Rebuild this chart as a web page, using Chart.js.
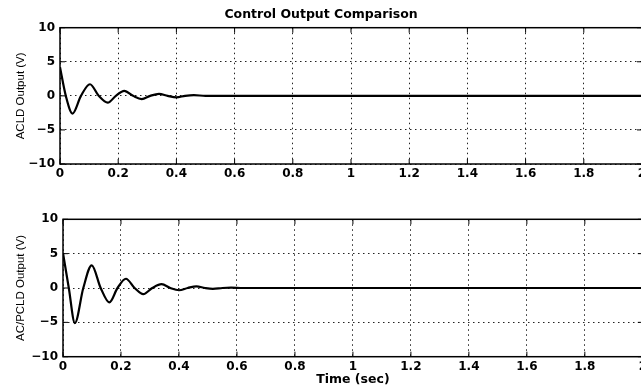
<!DOCTYPE html>
<html>
<head>
<meta charset="utf-8">
<script src="https://cdn.jsdelivr.net/npm/chart.js@4/dist/chart.umd.min.js"></script>
<style>
  html, body { margin: 0; padding: 0; background: #fff; overflow: hidden; width: 641px; height: 388px; }
  .box { position: absolute; left: 0; }
</style>
</head>
<body>
<div class="box" style="top:0"><canvas id="acldChart" width="650" height="185"></canvas></div>
<div class="box" style="top:190px"><canvas id="pcldChart" width="650" height="198"></canvas></div>
<script>
// ═══ DATA ═══
const chartTitle = 'Control Output Comparison';
const xAxisTitle = 'Time (sec)';
const acldLabel = 'ACLD Output (V)';
const pcldLabel = 'AC/PCLD Output (V)';

// time (sec) / volts – peaks and zero crossings
const acldTime = [0, 0.02, 0.043, 0.072, 0.103, 0.133, 0.164, 0.192, 0.221, 0.251, 0.281, 0.31, 0.34, 0.37, 0.40, 0.43, 0.46, 0.50, 0.55, 2.0];
const acldOut  = [4.2, 0, -2.6, 0, 1.7, 0, -1.0, 0, 0.74, 0, -0.48, 0, 0.3, 0, -0.22, 0, 0.1, 0, 0, 0];

const pcldTime = [0, 0.02, 0.041, 0.07, 0.099, 0.13, 0.16, 0.188, 0.217, 0.247, 0.277, 0.308, 0.34, 0.37, 0.40, 0.43, 0.46, 0.49, 0.517, 0.55, 0.58, 0.62, 2.0];
const pcldOut  = [5.1, 0, -5.1, 0, 3.3, 0, -2.1, 0, 1.35, 0, -0.9, 0, 0.55, 0, -0.33, 0, 0.25, 0, -0.12, 0, 0.05, 0, 0];

const timeRange = [0, 2];
const timeStep = 0.2;
const voltRange = [-10, 10];
const voltStep = 5;

// ═══ box + inward ticks, matlab style ═══
const boxPlugin = {
  id: 'box',
  beforeDatasetsDraw(chart) {
    const { ctx, chartArea: a, scales } = chart;
    ctx.save();
    ctx.strokeStyle = '#000';
    ctx.lineWidth = 1.5;
    ctx.strokeRect(a.left, a.top, a.right - a.left, a.bottom - a.top);
    ctx.lineWidth = 1;
    ctx.beginPath();
    scales.x.ticks.forEach(t => {
      const px = scales.x.getPixelForValue(t.value);
      ctx.moveTo(px, a.bottom); ctx.lineTo(px, a.bottom - 5);
      ctx.moveTo(px, a.top); ctx.lineTo(px, a.top + 5);
    });
    scales.y.ticks.forEach(t => {
      const py = scales.y.getPixelForValue(t.value);
      ctx.moveTo(a.left, py); ctx.lineTo(a.left + 5, py);
      ctx.moveTo(a.right, py); ctx.lineTo(a.right - 5, py);
    });
    ctx.stroke();
    ctx.restore();
  }
};

const tickFont = { family: 'DejaVu Sans', size: 12, weight: 'bold' };
const headFont = { family: 'DejaVu Sans', size: 12.5, weight: 'bold' };

function makeChart(id, times, vals, o) {
  return new Chart(document.getElementById(id), {
    type: 'line',
    data: {
      datasets: [{
        data: times.map((t, i) => ({ x: t, y: vals[i] })),
        borderColor: '#000', borderWidth: 2.2, pointRadius: 0,
        cubicInterpolationMode: 'monotone', fill: false
      }]
    },
    options: {
      responsive: false,
      animation: false,
      layout: { padding: { left: 0, right: o.padRight, top: o.padTop, bottom: 0 } },
      plugins: {
        legend: { display: false },
        tooltip: { enabled: false },
        title: {
          display: !!o.title, text: o.title, color: '#000',
          font: headFont, padding: { top: 7, bottom: 5.7 }
        }
      },
      scales: {
        x: {
          type: 'linear', min: timeRange[0], max: timeRange[1],
          afterFit: s => { s.height = o.xHeight; },
          grid: { color: '#222', lineWidth: 1, drawTicks: false },
          border: { display: false, dash: [1.5, 3.5] },
          ticks: { stepSize: timeStep, padding: 3, color: '#000', font: tickFont, maxRotation: 0,
                   callback: v => String(Math.round(v * 10) / 10) },
          title: { display: !!o.xTitle, text: o.xTitle, color: '#000',
                   font: headFont, padding: { top: 0, bottom: 0.5 } }
        },
        y: {
          min: voltRange[0], max: voltRange[1],
          afterFit: s => { s.width = o.yWidth; },
          grid: { color: '#222', lineWidth: 1, drawTicks: false },
          border: { display: false, dash: [1.5, 3.5] },
          ticks: { stepSize: voltStep, padding: 5, color: '#000', font: tickFont,
                   callback: v => v < 0 ? '\u2212' + (-v) : String(v) },
          title: { display: true, text: o.yTitle, color: '#000',
                   font: { family: 'Liberation Sans', size: 11.5 }, padding: { top: 13.5, bottom: 0 } }
        }
      }
    },
    plugins: [boxPlugin]
  });
}

makeChart('acldChart', acldTime, acldOut, {
  title: chartTitle, yTitle: acldLabel, padTop: 0, padRight: 8, xHeight: 21, yWidth: 60
});
makeChart('pcldChart', pcldTime, pcldOut, {
  xTitle: xAxisTitle, yTitle: pcldLabel, padTop: 29.3, padRight: 5, xHeight: 31.3, yWidth: 63
});
</script>
</body>
</html>
